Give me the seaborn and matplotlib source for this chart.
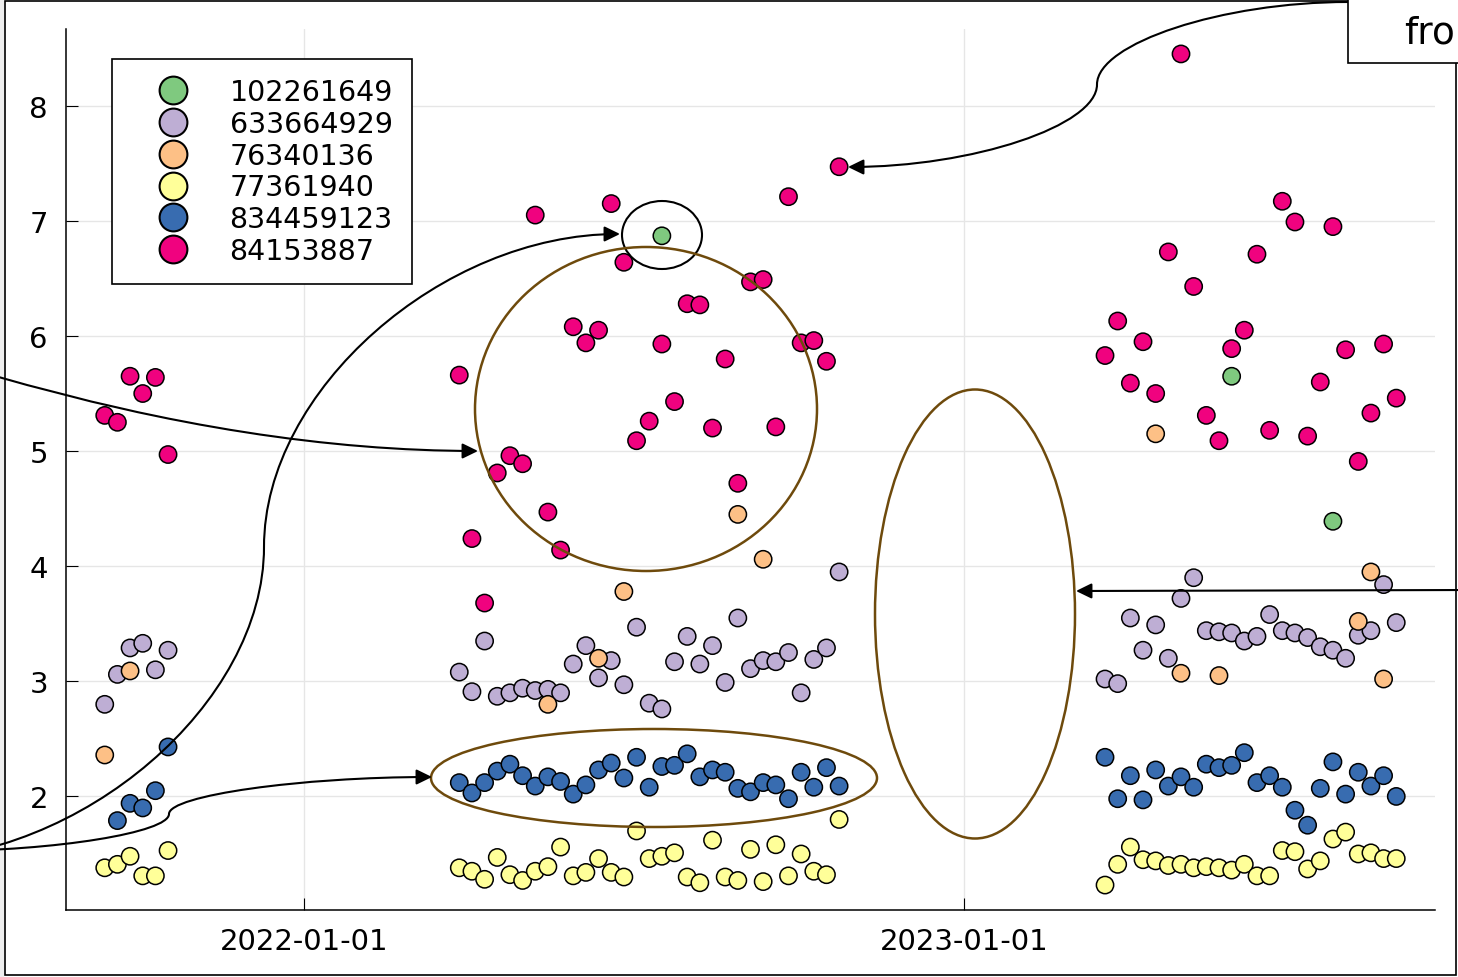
import numpy as np
import pandas as pd
import matplotlib
matplotlib.use("Agg")
import matplotlib.pyplot as plt
import matplotlib.dates as mdates
from matplotlib.patches import Ellipse, Rectangle, FancyArrowPatch
from matplotlib.path import Path
from matplotlib.lines import Line2D
import seaborn as sns

# ---------------- data ----------------
series_names = ["102261649", "633664929", "76340136", "77361940", "834459123", "84153887"]
series_colors = ["#7fc97f", "#beaed4", "#fdc086", "#ffff99", "#386cb0", "#f0027f"]

weeks_2021 = pd.date_range("2021-09-13", periods=6, freq="7D")
weeks_2022 = pd.date_range("2022-03-28", periods=31, freq="7D")
weeks_2023 = pd.date_range("2023-03-20", periods=24, freq="7D")

s84153887_2021 = [5.31, 5.25, 5.65, 5.50, 5.64, 4.97]
s84153887_2022 = [5.66, 4.24, 3.68, 4.81, 4.96, 4.89, 7.05, 4.47, 4.14, 6.08, 5.94, 6.05, 7.15, 6.64, 5.09, 5.26,
                  5.93, 5.43, 6.28, 6.27, 5.20, 5.80, 4.72, 6.47, 6.49, 5.21, 7.21, 5.94, 5.96, 5.78, 7.47]
s84153887_2023 = [5.83, 6.13, 5.59, 5.95, 5.50, 6.73, 8.45, 6.43, 5.31, 5.09, 5.89, 6.05, 6.71, 5.18, 7.17, 6.99,
                  5.13, 5.60, 6.95, 5.88, 4.91, 5.33, 5.93, 5.46]

s834459123_2021 = [np.nan, 1.79, 1.94, 1.90, 2.05, 2.43]
s834459123_2022 = [2.12, 2.03, 2.12, 2.22, 2.28, 2.18, 2.09, 2.17, 2.13, 2.02, 2.10, 2.23, 2.29, 2.16, 2.34, 2.08,
                   2.26, 2.27, 2.37, 2.17, 2.23, 2.21, 2.07, 2.04, 2.12, 2.10, 1.98, 2.21, 2.08, 2.25, 2.09]
s834459123_2023 = [2.34, 1.98, 2.18, 1.97, 2.23, 2.09, 2.17, 2.08, 2.28, 2.25, 2.27, 2.38, 2.12, 2.18, 2.08, 1.88,
                   1.75, 2.07, 2.30, 2.02, 2.21, 2.09, 2.18, 2.00]

s77361940_2021 = [1.38, 1.41, 1.48, 1.31, 1.31, 1.53]
s77361940_2022 = [1.38, 1.35, 1.28, 1.47, 1.32, 1.27, 1.35, 1.39, 1.56, 1.31, 1.34, 1.46, 1.34, 1.30, 1.70, 1.46,
                  1.48, 1.51, 1.30, 1.25, 1.62, 1.30, 1.27, 1.54, 1.26, 1.58, 1.31, 1.50, 1.35, 1.32, 1.80]
s77361940_2023 = [1.23, 1.41, 1.56, 1.45, 1.44, 1.40, 1.41, 1.38, 1.39, 1.38, 1.36, 1.41, 1.31, 1.31, 1.53, 1.52,
                  1.37, 1.44, 1.63, 1.69, 1.50, 1.51, 1.46, 1.46]

s633664929_2021 = [2.80, 3.06, 3.29, 3.33, 3.10, 3.27]
s633664929_2022 = [3.08, 2.91, 3.35, 2.87, 2.90, 2.94, 2.92, 2.93, 2.90, 3.15, 3.31, 3.03, 3.18, 2.97, 3.47, 2.81,
                   2.76, 3.17, 3.39, 3.15, 3.31, 2.99, 3.55, 3.11, 3.18, 3.17, 3.25, 2.90, 3.19, 3.29, 3.95]
s633664929_2023 = [3.02, 2.98, 3.55, 3.27, 3.49, 3.20, 3.72, 3.90, 3.44, 3.43, 3.42, 3.35, 3.39, 3.58, 3.44, 3.42,
                   3.38, 3.30, 3.27, 3.20, 3.40, 3.44, 3.84, 3.51]

s76340136_dates = ["2021-09-13", "2021-09-27", "2022-05-16", "2022-06-13", "2022-06-27", "2022-08-29",
                   "2022-09-12", "2023-04-17", "2023-05-01", "2023-05-22", "2023-08-07", "2023-08-14",
                   "2023-08-21"]
s76340136_values = [2.36, 3.09, 2.80, 3.20, 3.78, 4.45, 4.06, 5.15, 3.07, 3.05, 3.52, 3.95, 3.02]

s102261649_dates = ["2022-07-18", "2023-05-29", "2023-07-24"]
s102261649_values = [6.87, 5.65, 4.39]

# ---------------- table ----------------
weeks_all = list(weeks_2021) + list(weeks_2022) + list(weeks_2023)
frames = []
frames.append(pd.DataFrame({"date": pd.to_datetime(s102261649_dates), "value": s102261649_values,
                            "series": "102261649"}))
frames.append(pd.DataFrame({"date": weeks_all, "value": s633664929_2021 + s633664929_2022 + s633664929_2023,
                            "series": "633664929"}))
frames.append(pd.DataFrame({"date": pd.to_datetime(s76340136_dates), "value": s76340136_values,
                            "series": "76340136"}))
frames.append(pd.DataFrame({"date": weeks_all, "value": s77361940_2021 + s77361940_2022 + s77361940_2023,
                            "series": "77361940"}))
frames.append(pd.DataFrame({"date": weeks_all, "value": s834459123_2021 + s834459123_2022 + s834459123_2023,
                            "series": "834459123"}))
frames.append(pd.DataFrame({"date": weeks_all, "value": s84153887_2021 + s84153887_2022 + s84153887_2023,
                            "series": "84153887"}))
df = pd.concat(frames, ignore_index=True).dropna()

# ---------------- figure ----------------
sns.set_theme(style="white")
plt.rcParams["font.family"] = ["DejaVu Sans"]

W, H = 1458, 978
fig = plt.figure(figsize=(W / 100, H / 100), dpi=100)
fig.patch.set_facecolor("white")
ax = fig.add_axes([66 / W, 1 - 911 / H, (1435 - 66) / W, (911 - 30) / H])

sns.scatterplot(data=df, x="date", y="value", hue="series", hue_order=series_names,
                palette=series_colors, s=155, edgecolor="black", linewidth=1.1,
                legend=False, ax=ax, zorder=3)

ax.margins(x=0.03, y=0.03)
ax.set_xlabel("")
ax.set_ylabel("")
ax.set_yticks(range(2, 9))
ax.xaxis.set_major_locator(mdates.YearLocator())
ax.xaxis.set_major_formatter(mdates.DateFormatter("%Y-%m-%d"))

ax.grid(True, color="#e6e6e6", linewidth=1.0)
ax.set_axisbelow(True)
for side in ["top", "right"]:
    ax.spines[side].set_visible(False)
for side in ["left", "bottom"]:
    ax.spines[side].set_color("black")
    ax.spines[side].set_linewidth(1.1)
ax.tick_params(axis="both", which="major", direction="in", length=8.6, width=0.8,
               colors="black", labelcolor="black", labelsize=21, bottom=True, left=True)
ax.tick_params(axis="y", pad=13)
ax.tick_params(axis="x", pad=12.3)

handles = [Line2D([], [], ls="", marker="o", markersize=20, markerfacecolor=c,
                  markeredgecolor="black", markeredgewidth=1.5) for c in series_colors]
leg = ax.legend(handles, series_names, loc="upper left", bbox_to_anchor=(112 / W, 1 - 60 / H),
                bbox_transform=fig.transFigure, borderaxespad=0, frameon=True, fancybox=False,
                edgecolor="black", framealpha=1, fontsize=20.5, handlelength=2.9,
                handletextpad=0.55, borderpad=0.68, labelspacing=0.13, labelcolor="black")
leg.get_frame().set_linewidth(1.2)


# ---------------- annotations (figure pixel coordinates) ----------------
def P(x, y):
    return (x / W, 1 - y / H)


def connector(x0, y0, x1, y1, xm):
    ym = (y0 + y1) / 2
    h = y1 - y0
    pts = [(x0, y0), ((x0 + xm) / 2, y0), (xm, y0 + h / 4), (xm, ym),
           (xm, y0 + 3 * h / 4), ((xm + x1) / 2, y1), (x1, y1)]
    codes = [Path.MOVETO] + [Path.CURVE4] * 6
    return Path([P(*p) for p in pts], codes)


def add_arrow(path):
    arr = FancyArrowPatch(path=path, arrowstyle="-|>,head_length=0.47,head_width=0.23",
                          mutation_scale=20, color="black", lw=1.5,
                          transform=fig.transFigure, zorder=5)
    fig.add_artist(arr)


# light strip and frame
fig.add_artist(Rectangle((0, 0), 4 / W, 1, transform=fig.transFigure, fc="#eeeeee", ec="none", zorder=4))
fig.add_artist(Rectangle(P(4.5, 976), (1456 - 4.5) / W, (976 - 2) / H, transform=fig.transFigure,
                         fill=False, ec="black", lw=1.2, zorder=4))

brown = "#6e4a0c"
fig.add_artist(Ellipse(P(662, 236), 80 / W, 68 / H, transform=fig.transFigure, fill=False,
                       ec="black", lw=1.5, zorder=5))
fig.add_artist(Ellipse(P(646, 410), 342 / W, 324 / H, transform=fig.transFigure, fill=False,
                       ec=brown, lw=1.8, zorder=5))
fig.add_artist(Ellipse(P(654, 779), 446 / W, 98 / H, transform=fig.transFigure, fill=False,
                       ec=brown, lw=1.8, zorder=5))
fig.add_artist(Ellipse(P(975, 615), 200 / W, 449 / H, transform=fig.transFigure, fill=False,
                       ec=brown, lw=1.8, zorder=5))

add_arrow(connector(1348, 3, 848, 168, 1097))
add_arrow(connector(-100, 861, 620, 235, 264))
add_arrow(connector(-60, 852, 432, 778, 169))
add_arrow(Path([P(-5, 377), P(255, 452), P(478, 452)], [Path.MOVETO, Path.CURVE3, Path.CURVE3]))
add_arrow(Path([P(1470, 591), P(1076, 592)], [Path.MOVETO, Path.LINETO]))

fig.add_artist(Rectangle(P(1348, 64), (1480 - 1348) / W, 80 / H, transform=fig.transFigure,
                         fc="white", ec="black", lw=1.2, zorder=6))
fig.text(1455 / W, 1 - 43 / H, "fro", fontsize=27, ha="right", va="baseline", color="black", zorder=7)

fig.savefig("out.png", dpi=100)
